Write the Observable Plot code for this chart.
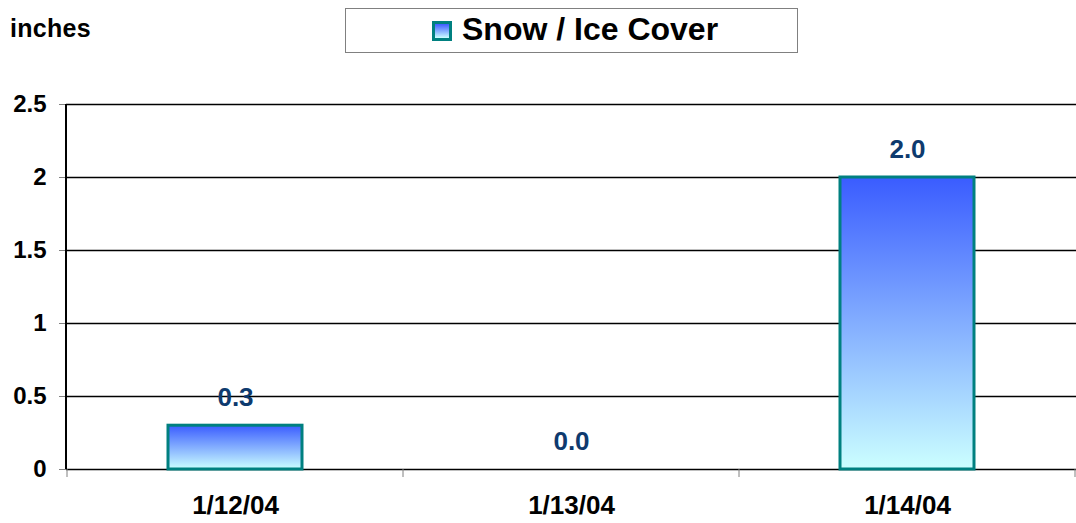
<!DOCTYPE html>
<html><head><meta charset="utf-8">
<script src="https://cdn.jsdelivr.net/npm/d3@7"></script>
<script src="https://cdn.jsdelivr.net/npm/@observablehq/plot@0.6"></script>
<style>
body{margin:0;background:#fff;font-family:"Liberation Sans",Arial,sans-serif;}
#wrap{position:relative;width:1076px;height:523px;}
#head{position:relative;height:60px;}
#unit{position:absolute;left:10px;top:14px;font-weight:bold;font-size:25px;letter-spacing:0.3px;color:#000;}
#legend{position:absolute;left:345px;top:8px;width:451px;height:43px;border:1px solid #808080;background:#fff;}
#sw{position:absolute;left:86px;top:12px;width:14px;height:14px;border:3px solid #008080;background:linear-gradient(#3d5cff,#ccffff);}
#lt{position:absolute;left:116px;top:2px;font-weight:bold;font-size:32px;color:#000;white-space:nowrap;}
</style></head>
<body><div id="wrap"><div id="head"><div id="unit">inches</div><div id="legend"><div id="sw"></div><div id="lt">Snow / Ice Cover</div></div></div><div id="chart"></div></div>
<script>
const dates = ["1/12/04","1/13/04","1/14/04"];
const snow = [0.3, 0.0, 2.0];
const yTicks = [0, 0.5, 1, 1.5, 2, 2.5];
const seriesName = "Snow / Ice Cover";

const data = dates.map((d,i)=>({date:d, value:snow[i]}));

function defs(){
  const svg = d3.create("svg:g");
  const g = svg.append("defs").append("linearGradient").attr("id","snowGrad").attr("x1",0).attr("y1",0).attr("x2",0).attr("y2",1);
  g.append("stop").attr("offset","0%").attr("stop-color","#3a5cff");
  g.append("stop").attr("offset","100%").attr("stop-color","#ccffff");
  return svg.node();
}
function axisLines(index, scales, values, dims){
  const x = scales.x, y = scales.y;
  const g = d3.create("svg:g");
  const y0 = y(0);
  const step = x.step(), bw = x.bandwidth();
  const cats = x.domain();
  const bounds = cats.map(c => x(c) - (step-bw)/2);
  bounds.push(bounds[bounds.length-1] + step);
  bounds.forEach(b => g.append("line").attr("x1",b).attr("x2",b).attr("y1",y0).attr("y2",y0+8).attr("stroke","#808080").attr("stroke-width",1));
  g.append("line").attr("x1",dims.marginLeft).attr("x2",dims.marginLeft).attr("y1",dims.marginTop).attr("y2",y0).attr("stroke","#000").attr("stroke-width",2);
  return g.node();
}

const chart = Plot.plot({
  width: 1076, height: 463,
  marginTop: 44, marginBottom: 54, marginLeft: 66, marginRight: 0,
  style: {fontFamily: '"Liberation Sans", Arial, sans-serif', fontWeight: "bold", fontSize: "24px", color: "#000", background: "#fff"},
  x: {domain: dates, paddingInner: 0.6, paddingOuter: 0.3, label: null},
  y: {domain: [0, 2.5], label: null},
  marks: [
    defs,
    Plot.ruleY(yTicks, {stroke: "#000", strokeWidth: 1.6}),
    Plot.axisY({ticks: yTicks, tickFormat: d => String(d), tickSize: 7, tickPadding: 13, stroke: "#808080", fontSize: 24, fontWeight: "bold", label: null}),
    Plot.axisX({tickSize: 0, tickPadding: 26, fontSize: 26, fontWeight: "bold", label: null}),
    Plot.barY(data, {x: "date", y: "value", fill: "url(#snowGrad)", stroke: "#008080", strokeWidth: 3}),
    axisLines,
    Plot.text(data, {x: "date", y: "value", text: d => d.value.toFixed(1), dy: -28, fill: "#0e3a6e", fontSize: 26, fontWeight: "bold"})
  ]
});
document.getElementById("chart").appendChild(chart);
</script></body></html>
